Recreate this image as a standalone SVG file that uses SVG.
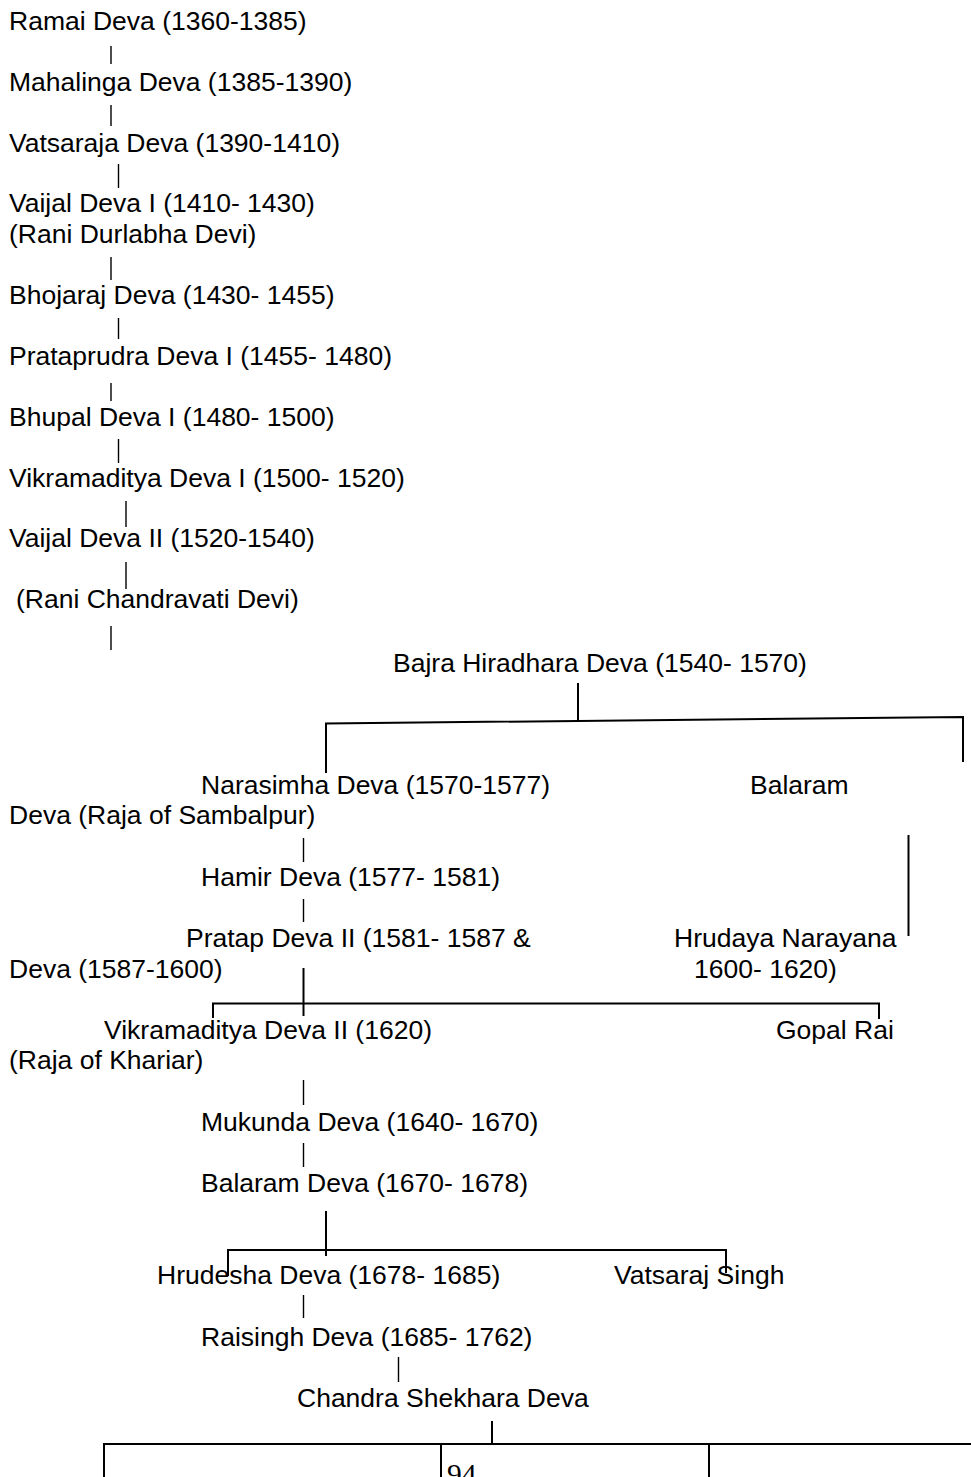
<svg xmlns="http://www.w3.org/2000/svg" width="971" height="1477" viewBox="0 0 971 1477">
<style>
text{font-family:"Liberation Sans",Arial,sans-serif;font-size:26.5px;fill:#000}
.pg{font-family:"Liberation Serif","Times New Roman",serif;font-size:29.5px}
.c{stroke:#000;stroke-width:2;fill:none}
.p{stroke:#000;stroke-width:1.4;fill:none}
</style>
<rect width="971" height="1477" fill="#fff"/>
<g id="connectors">
<line class="p" x1="111" y1="46" x2="111" y2="64"/>
<line class="p" x1="111" y1="105" x2="111" y2="126"/>
<line class="p" x1="118.5" y1="164" x2="118.5" y2="188"/>
<line class="p" x1="111" y1="257" x2="111" y2="280"/>
<line class="p" x1="118.5" y1="318" x2="118.5" y2="339"/>
<line class="p" x1="111" y1="383" x2="111" y2="401"/>
<line class="p" x1="118.5" y1="439" x2="118.5" y2="463"/>
<line class="p" x1="126" y1="501" x2="126" y2="527"/>
<line class="p" x1="126" y1="562" x2="126" y2="589"/>
<line class="p" x1="111" y1="626" x2="111" y2="650"/>
<line class="c" x1="578" y1="683" x2="578" y2="722"/>
<path class="c" d="M326 773 L326 723.5 L963 717 L963 762"/>
<line class="c" x1="908.5" y1="835" x2="908.5" y2="936"/>
<line class="p" x1="303.5" y1="838" x2="303.5" y2="862"/>
<line class="p" x1="303.5" y1="899" x2="303.5" y2="922"/>
<line class="c" x1="303.5" y1="968" x2="303.5" y2="1016"/>
<path class="c" d="M213 1018 L213 1003.5 L879 1003.5 L879 1019"/>
<line class="p" x1="303.5" y1="1080" x2="303.5" y2="1105"/>
<line class="p" x1="303.5" y1="1143" x2="303.5" y2="1167"/>
<line class="c" x1="326" y1="1211" x2="326" y2="1256"/>
<path class="c" d="M228 1276 L228 1250 L726 1250 L726 1273"/>
<line class="p" x1="303.5" y1="1295" x2="303.5" y2="1318"/>
<line class="p" x1="398.5" y1="1357" x2="398.5" y2="1382"/>
<line class="c" x1="492" y1="1421" x2="492" y2="1444"/>
<line class="c" x1="103" y1="1444" x2="971" y2="1444"/>
<line class="c" x1="104" y1="1444" x2="104" y2="1477"/>
<line class="c" x1="441" y1="1444" x2="441" y2="1477"/>
<line class="c" x1="709" y1="1444" x2="709" y2="1477"/>
</g>
<g id="n-ramai"><text x="9" y="30">Ramai Deva (1360-1385)</text></g>
<g id="n-mahalinga"><text x="9" y="91">Mahalinga Deva (1385-1390)</text></g>
<g id="n-vatsaraja"><text x="9" y="152">Vatsaraja Deva (1390-1410)</text></g>
<g id="n-vaijal1"><text x="9" y="212">Vaijal Deva I (1410- 1430)</text><text x="9" y="242.5">(Rani Durlabha Devi)</text></g>
<g id="n-bhojaraj"><text x="9" y="303.5">Bhojaraj Deva (1430- 1455)</text></g>
<g id="n-prataprudra"><text x="9" y="364.5">Prataprudra Deva I (1455- 1480)</text></g>
<g id="n-bhupal"><text x="9" y="425.5">Bhupal Deva I (1480- 1500)</text></g>
<g id="n-vikram1"><text x="9" y="486.5">Vikramaditya Deva I (1500- 1520)</text></g>
<g id="n-vaijal2"><text x="9" y="547">Vaijal Deva II (1520-1540)</text></g>
<g id="n-chandravati"><text x="16" y="608">(Rani Chandravati Devi)</text></g>
<g id="n-bajra"><text x="393" y="671.5">Bajra Hiradhara Deva (1540- 1570)</text></g>
<g id="n-narasimha"><text x="201" y="793.5">Narasimha Deva (1570-1577)</text></g>
<g id="n-balaram1"><text x="750" y="793.5">Balaram</text><text x="9" y="824">Deva (Raja of Sambalpur)</text></g>
<g id="n-hamir"><text x="201" y="886">Hamir Deva (1577- 1581)</text></g>
<g id="n-pratap2"><text x="186" y="947">Pratap Deva II (1581- 1587 &amp;</text><text x="9" y="977.5">Deva (1587-1600)</text></g>
<g id="n-hrudaya"><text x="674" y="947">Hrudaya Narayana</text><text x="694" y="977.5">1600- 1620)</text></g>
<g id="n-vikram2"><text x="104" y="1038.5">Vikramaditya Deva II (1620)</text><text x="9" y="1069">(Raja of Khariar)</text></g>
<g id="n-gopal"><text x="776" y="1038.5">Gopal Rai</text></g>
<g id="n-mukunda"><text x="201" y="1131">Mukunda Deva (1640- 1670)</text></g>
<g id="n-balaram2"><text x="201" y="1192">Balaram Deva (1670- 1678)</text></g>
<g id="n-hrudesha"><text x="157" y="1283.5">Hrudesha Deva (1678- 1685)</text></g>
<g id="n-vatsaraj"><text x="614" y="1283.5">Vatsaraj Singh</text></g>
<g id="n-raisingh"><text x="201" y="1346">Raisingh Deva (1685- 1762)</text></g>
<g id="n-chandra"><text x="297" y="1407">Chandra Shekhara Deva</text></g>
<g id="page"><text class="pg" x="447" y="1484">94</text></g>
</svg>
